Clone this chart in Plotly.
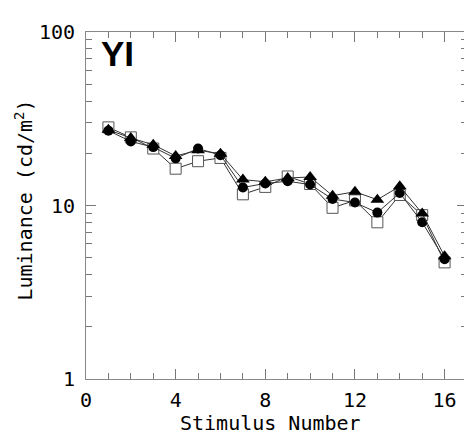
import plotly.graph_objects as go

stimulus = list(range(1, 17))
lum_square = [28.2, 24.7, 21.3, 16.3, 18.0, 18.8, 11.6, 12.8, 14.7, 13.3, 9.7, 10.7, 8.0, 11.5, 8.8, 4.7]
lum_circle = [27.0, 23.4, 21.7, 18.7, 21.3, 19.5, 12.7, 13.4, 13.8, 13.2, 10.9, 10.4, 9.1, 11.8, 8.0, 4.9]
lum_triangle = [27.3, 24.5, 22.4, 19.3, 20.8, 19.9, 14.1, 13.7, 14.4, 14.6, 11.4, 12.0, 10.8, 12.9, 9.0, 5.1]

x_ticks = [0, 4, 8, 12, 16]
y_ticks = [1, 10, 100]
y_minor = [2, 3, 4, 5, 6, 7, 8, 9, 20, 30, 40, 50, 60, 70, 80, 90]

fig = go.Figure()
line_style = dict(color="#333333", width=1)
fig.add_trace(go.Scatter(x=stimulus, y=lum_square, mode="lines+markers", line=line_style,
                         marker=dict(symbol="square", size=11, color="white",
                                     line=dict(color="#555555", width=1))))
fig.add_trace(go.Scatter(x=stimulus, y=lum_circle, mode="lines+markers", line=line_style,
                         marker=dict(symbol="circle", size=10, color="black")))
fig.add_trace(go.Scatter(x=stimulus, y=lum_triangle, mode="lines+markers", line=line_style,
                         marker=dict(symbol="triangle-up", size=12, color="black")))

tick_font = dict(family="DejaVu Sans Mono", size=20, color="black")
fig.update_layout(
    width=472, height=436,
    margin=dict(l=78, r=12, t=16, b=65),
    paper_bgcolor="white", plot_bgcolor="white",
    showlegend=False,
    xaxis=dict(range=[0, 17], tickmode="array", tickvals=x_ticks,
               ticktext=[str(v) for v in x_ticks],
               ticks="inside", ticklen=10, tickwidth=1, tickcolor="#777777",
               minor=dict(dtick=1, tick0=0, ticks="inside", ticklen=6, tickcolor="#777777"),
               showline=True, linecolor="#888888", linewidth=1, mirror="ticks",
               showgrid=False, zeroline=False, tickfont=tick_font,
               ticklabelstandoff=3),
    yaxis=dict(type="log", range=[0, 2], tickmode="array", tickvals=y_ticks,
               ticktext=[str(v) for v in y_ticks],
               ticks="inside", ticklen=10, tickwidth=1, tickcolor="#777777",
               minor=dict(tickmode="array", tickvals=y_minor, ticks="inside", ticklen=6,
                          tickcolor="#777777"),
               showline=True, linecolor="#888888", linewidth=1, mirror="ticks",
               showgrid=False, zeroline=False, tickfont=tick_font,
               ticklabelstandoff=6),
    annotations=[
        dict(text="<b>YI</b>", xref="paper", yref="paper", x=0.035, y=1.0,
             xanchor="left", yanchor="top", showarrow=False,
             font=dict(family="Liberation Sans", size=35, color="black")),
        dict(text="Stimulus Number", xref="paper", yref="paper", x=0.484, y=-0.128,
             xanchor="center", yanchor="middle", showarrow=False, font=tick_font),
        dict(text="Luminance (cd/m<sup>2</sup>)", xref="paper", yref="paper", x=-0.162, y=0.515,
             xanchor="center", yanchor="middle", textangle=-90, showarrow=False, font=tick_font),
    ],
)
fig.write_html("out.html")
